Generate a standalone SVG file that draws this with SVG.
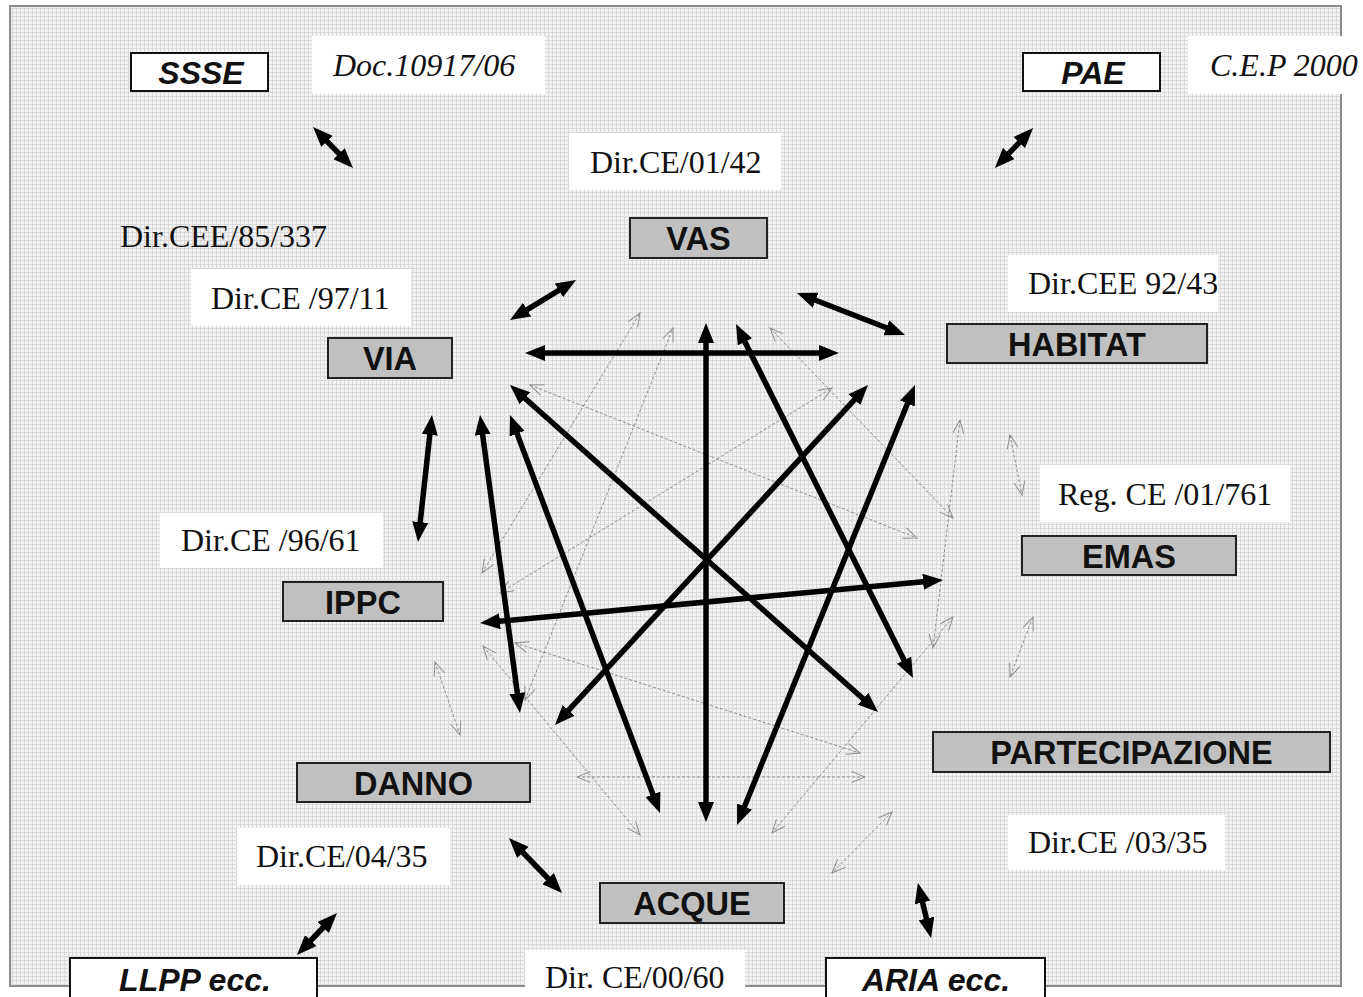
<svg xmlns="http://www.w3.org/2000/svg" width="1363" height="997" viewBox="0 0 1363 997">
<defs>
<pattern id="grid" width="4" height="4" patternUnits="userSpaceOnUse">
<rect width="4" height="4" fill="#f3f3f3"/>
<rect width="4" height="1" fill="#dadada"/>
<rect width="1" height="4" fill="#dadada"/>
</pattern>
<marker id="ah" viewBox="0 0 20 16" refX="11" refY="8" markerWidth="20" markerHeight="16" markerUnits="userSpaceOnUse" orient="auto-start-reverse">
<path d="M0,0 L20,8 L0,16 z" fill="#000"/>
</marker>
<marker id="dh" viewBox="0 0 15 12" refX="14" refY="6" markerWidth="15" markerHeight="12" markerUnits="userSpaceOnUse" orient="auto-start-reverse">
<path d="M0.5,0.5 L14,6 L0.5,11.5" fill="none" stroke="#8e8e8e" stroke-width="1"/>
</marker>
</defs>
<style>
.thick{stroke:#000;stroke-width:5.5;fill:none;marker-start:url(#ah);marker-end:url(#ah)}
.dash{stroke:#8e8e8e;stroke-width:1;stroke-dasharray:3,2;fill:none;marker-start:url(#dh);marker-end:url(#dh)}
.gbox{fill:#c0c0c0;stroke:#222;stroke-width:2}
.wbox{fill:#fff;stroke:#111;stroke-width:2}
.wrect{fill:#fff}
.bt{font-family:"Liberation Sans",Arial,sans-serif;font-weight:bold;font-size:32.5px;fill:#111;text-anchor:middle}
.bi{font-family:"Liberation Sans",Arial,sans-serif;font-weight:bold;font-style:italic;font-size:32px;fill:#111;text-anchor:middle}
.tt{font-family:"Liberation Serif","Times New Roman",serif;font-size:32px;fill:#111}
.ti{font-family:"Liberation Serif","Times New Roman",serif;font-style:italic;font-size:32px;fill:#111}
</style>
<rect x="0" y="0" width="1363" height="997" fill="#fff"/>
<rect x="10" y="6" width="1331" height="980" fill="url(#grid)" stroke="#8c8c8c" stroke-width="2"/>

<g id="connectors">
<g id="dashed">
<line class="dash" x1="482" y1="573" x2="640" y2="313"/>
<line class="dash" x1="525" y1="700" x2="673" y2="328"/>
<line class="dash" x1="530" y1="385" x2="917" y2="538"/>
<line class="dash" x1="500" y1="593" x2="832" y2="388"/>
<line class="dash" x1="770" y1="328" x2="953" y2="518"/>
<line class="dash" x1="483" y1="646" x2="640" y2="835"/>
<line class="dash" x1="515" y1="643" x2="860" y2="753"/>
<line class="dash" x1="577" y1="777" x2="865" y2="777"/>
<line class="dash" x1="953" y1="617" x2="772" y2="833"/>
<line class="dash" x1="960" y1="420" x2="933" y2="648"/>
<line class="dash" x1="435" y1="662" x2="460" y2="735"/>
<line class="dash" x1="1010" y1="435" x2="1022" y2="495"/>
<line class="dash" x1="1033" y1="617" x2="1010" y2="677"/>
<line class="dash" x1="892" y1="812" x2="832" y2="873"/>
</g>
<g id="thick">
<line class="thick" x1="319.3" y1="133.4" x2="346.7" y2="161.6"/>
<line class="thick" x1="1026.9" y1="134.6" x2="1001.1" y2="161.4"/>
<line class="thick" x1="568.3" y1="284.7" x2="517.7" y2="315.3"/>
<line class="thick" x1="805.4" y1="296.3" x2="896.6" y2="331.7"/>
<line class="thick" x1="534" y1="353" x2="830" y2="353"/>
<line class="thick" x1="706" y1="332" x2="706" y2="813"/>
<line class="thick" x1="431" y1="424" x2="419" y2="533"/>
<line class="thick" x1="481.2" y1="423.9" x2="518.8" y2="704.1"/>
<line class="thick" x1="513.2" y1="423.4" x2="656.8" y2="804.6"/>
<line class="thick" x1="516.7" y1="391" x2="871.3" y2="706"/>
<line class="thick" x1="740" y1="332" x2="909" y2="670"/>
<line class="thick" x1="561.1" y1="718.4" x2="861.9" y2="391.6"/>
<line class="thick" x1="740.4" y1="816.7" x2="911.6" y2="393.3"/>
<line class="thick" x1="489" y1="622.2" x2="934" y2="580.8"/>
<line class="thick" x1="515.2" y1="844.5" x2="555.8" y2="886.5"/>
<line class="thick" x1="330.8" y1="919.5" x2="303.2" y2="948.5"/>
<line class="thick" x1="920" y1="891.8" x2="929" y2="929.2"/>
</g>
</g>

<g id="ssse"><rect class="wbox" x="131" y="53" width="137" height="38"/><text class="bi" x="201" y="84">SSSE</text></g>
<g id="lbl-doc"><rect class="wrect" x="312" y="36" width="233" height="58"/><text class="ti" x="333" y="76">Doc.10917/06</text></g>
<g id="pae"><rect class="wbox" x="1023" y="53" width="137" height="38"/><text class="bi" x="1093" y="84">PAE</text></g>
<g id="lbl-cep"><rect class="wrect" x="1188" y="36" width="175" height="58"/><text class="ti" x="1210" y="76">C.E.P 2000</text></g>
<g id="lbl-0142"><rect class="wrect" x="569" y="133" width="212" height="57"/><text class="tt" x="590" y="173">Dir.CE/01/42</text></g>
<g id="vas"><rect class="gbox" x="630" y="218" width="137" height="40"/><text class="bt" x="698.5" y="250">VAS</text></g>
<g id="lbl-85337"><text class="tt" x="120" y="247">Dir.CEE/85/337</text></g>
<g id="lbl-9711"><rect class="wrect" x="191" y="269" width="220" height="57"/><text class="tt" x="211" y="309">Dir.CE /97/11</text></g>
<g id="via"><rect class="gbox" x="328" y="338" width="124" height="40"/><text class="bt" x="390" y="370">VIA</text></g>
<g id="lbl-9243"><rect class="wrect" x="1008" y="255" width="210" height="57"/><text class="tt" x="1028" y="294">Dir.CEE 92/43</text></g>
<g id="habitat"><rect class="gbox" x="947" y="324" width="260" height="39"/><text class="bt" x="1077" y="356">HABITAT</text></g>
<g id="lbl-01761"><rect class="wrect" x="1040" y="465" width="250" height="57"/><text class="tt" x="1058" y="505">Reg. CE /01/761</text></g>
<g id="emas"><rect class="gbox" x="1022" y="536" width="214" height="39"/><text class="bt" x="1129" y="568">EMAS</text></g>
<g id="lbl-9661"><rect class="wrect" x="160" y="513" width="223" height="55"/><text class="tt" x="181" y="551">Dir.CE /96/61</text></g>
<g id="ippc"><rect class="gbox" x="283" y="582" width="160" height="39"/><text class="bt" x="363" y="614">IPPC</text></g>
<g id="partecipazione"><rect class="gbox" x="933" y="732" width="397" height="40"/><text class="bt" x="1131.5" y="764">PARTECIPAZIONE</text></g>
<g id="danno"><rect class="gbox" x="297" y="763" width="233" height="39"/><text class="bt" x="413.5" y="795">DANNO</text></g>
<g id="lbl-0335"><rect class="wrect" x="1008" y="815" width="217" height="55"/><text class="tt" x="1028" y="853">Dir.CE /03/35</text></g>
<g id="lbl-0435"><rect class="wrect" x="237" y="828" width="213" height="57"/><text class="tt" x="256" y="867">Dir.CE/04/35</text></g>
<g id="acque"><rect class="gbox" x="600" y="883" width="184" height="40"/><text class="bt" x="692" y="915">ACQUE</text></g>
<g id="llpp"><rect class="wbox" x="70" y="958" width="247" height="50"/><text class="bi" x="195" y="991">LLPP ecc.</text></g>
<g id="lbl-0060"><rect class="wrect" x="525" y="950" width="220" height="50"/><text class="tt" x="545" y="988">Dir. CE/00/60</text></g>
<g id="aria"><rect class="wbox" x="826" y="958" width="219" height="50"/><text class="bi" x="936" y="991">ARIA ecc.</text></g>
</svg>
